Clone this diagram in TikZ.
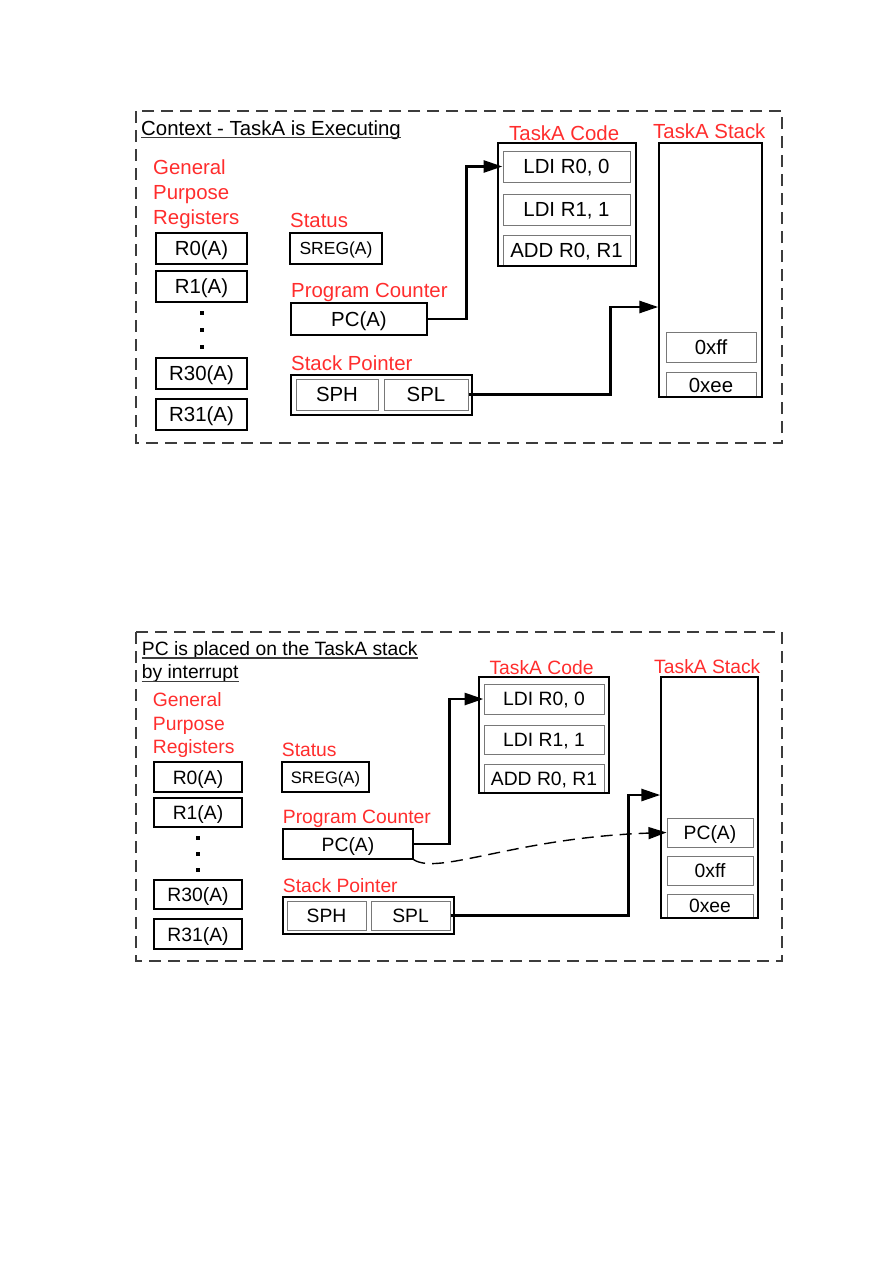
\documentclass[tikz,border=0pt]{standalone}
\usepackage{fontspec}
\setmainfont{Liberation Sans}
\usetikzlibrary{arrows.meta,calc}
\definecolor{lblred}{RGB}{255,45,45}
\definecolor{framegray}{RGB}{60,60,60}
\definecolor{cellgray}{RGB}{120,120,120}
\newcommand{\bigA}{\fontsize{20.4}{25}\selectfont}
\newcommand{\bigB}{\fontsize{19.3}{23.3}\selectfont}
\newcommand{\smlA}{\fontsize{17.5}{20}\selectfont}
\newcommand{\smlB}{\fontsize{16.6}{19}\selectfont}
\tikzset{
    frame/.style={draw=framegray, line width=1.4pt, dash pattern=on 12pt off 7pt},
    title/.style={anchor=base west, inner sep=0pt, text=black},
    uline/.style={draw=framegray, line width=1.2pt},
    lbl/.style={anchor=base west, inner sep=0pt, text=lblred},
    reg/.style={draw=black, line width=1.4pt, inner sep=0pt, text depth=0pt},
    cell/.style={draw=cellgray, line width=1pt, inner sep=0pt, text depth=0pt},
    holder/.style={draw=black, line width=1.4pt, inner sep=0pt},
    wire/.style={line width=2.8pt, -{Triangle[length=19pt,width=12pt]}},
    push/.style={line width=1.4pt, dash pattern=on 12pt off 7pt, -{Triangle[length=18pt,width=12pt]}},
    regdot/.style={rectangle, fill=black, inner sep=0pt, minimum size=3.5pt}
}
\begin{document}
\begin{tikzpicture}[x=1pt,y=-1pt]
\useasboundingbox (0,0) rectangle (893,1263);

% upper panel: TaskA running
\begin{scope}[every node/.append style={font=\bigA}]
\draw[frame] (136,111) rectangle (782,443);
\node[title] (titleA) at (141,135) {Context - TaskA is Executing};
\draw[uline] ([yshift=-2.5pt]titleA.base west) -- ([yshift=-2.5pt]titleA.base east);
\node[lbl, anchor=north west, align=left] (gprA) at (153,159.5) {General\\Purpose\\Registers};
\node[reg, minimum width=91pt, minimum height=31pt] (r0A) at (201.5,248.5) {R0(A)};
\node[reg, minimum width=91pt, minimum height=31pt] (r1A) at (201.5,286.5) {R1(A)};
\node[regdot] (dA1) at (202,313) {};
\node[regdot] (dA2) at (202,330) {};
\node[regdot] (dA3) at (202,347) {};
\node[reg, minimum width=91pt, minimum height=31pt] (r30A) at (201.5,373.5) {R30(A)};
\node[reg, minimum width=91pt, minimum height=31pt] (r31A) at (201.5,414.5) {R31(A)};
\node[lbl] (statusA) at (290,227) {Status};
\node[reg, minimum width=92pt, minimum height=31pt, font=\smlA] (sregA) at (336,248.5) {SREG(A)};
\node[lbl] (pclblA) at (291,297) {Program Counter};
\node[reg, minimum width=136pt, minimum height=32pt] (pcA) at (359,319) {PC(A)};
\node[lbl] (splblA) at (291,370) {Stack Pointer};
\node[cell, minimum width=82pt, minimum height=31pt] (sphA) at (337,394.5) {SPH};
\node[cell, minimum width=84pt, minimum height=31pt] (splA) at (426,394.5) {SPL};
\node[holder, minimum width=181pt, minimum height=40pt] (spA) at (381.5,395) {};
\node[lbl] (codelblA) at (509,140) {TaskA Code};
\node[cell, minimum width=127pt, minimum height=31pt] (ldi0A) at (566.5,166.5) {LDI R0, 0};
\node[cell, minimum width=127pt, minimum height=31pt] (ldi1A) at (566.5,209.5) {LDI R1, 1};
\node[cell, minimum width=127pt, minimum height=31pt] (addA) at (566.5,250.5) {ADD R0, R1};
\node[holder, minimum width=138pt, minimum height=123pt] (codeA) at (567,204.5) {};
\node[lbl] (stklblA) at (653,138) {TaskA Stack};
\node[cell, minimum width=90pt, minimum height=30pt] (xffA) at (711,347) {0xff};
\node[cell, minimum width=90pt, minimum height=25pt] (xeeA) at (711,385) {0xee};
\node[holder, minimum width=103pt, minimum height=254pt] (stackA) at (710.5,270) {};
\draw[wire] (pcA.east) -- ++(39,0) |- (ldi0A.west);
\draw[wire] (splA.east) -- ++(142,0) |- ([yshift=-37pt]stackA.west);
\end{scope}

% lower panel: PC pushed by interrupt
\begin{scope}[every node/.append style={font=\bigB}]
\draw[frame] (136,632) rectangle (782,961);
\node[title] (titleB) at (141.7,655.5) {PC is placed on the TaskA stack};
\node[title] (titleB2) at (141.7,678.3) {by interrupt};
\draw[uline] ([yshift=-2.5pt]titleB.base west) -- ([yshift=-2.5pt]titleB.base east);
\draw[uline] ([yshift=-3pt]titleB2.base west) -- ([yshift=-3pt]titleB2.base east);
\node[lbl, anchor=north west, align=left] (gprB) at (152.7,692.7) {General\\Purpose\\Registers};
\node[reg, minimum width=88pt, minimum height=30pt] (r0B) at (198,777) {R0(A)};
\node[reg, minimum width=88pt, minimum height=29pt] (r1B) at (198,812.5) {R1(A)};
\node[regdot] (dB1) at (198,838) {};
\node[regdot] (dB2) at (198,854) {};
\node[regdot] (dB3) at (198,870) {};
\node[reg, minimum width=88pt, minimum height=29pt] (r30B) at (198,894.5) {R30(A)};
\node[reg, minimum width=88pt, minimum height=30pt] (r31B) at (198,934) {R31(A)};
\node[lbl] (statusB) at (281.7,756.5) {Status};
\node[reg, minimum width=87pt, minimum height=30pt, font=\smlB] (sregB) at (325.5,777) {SREG(A)};
\node[lbl] (pclblB) at (282.7,823.3) {Program Counter};
\node[reg, minimum width=130pt, minimum height=30pt] (pcB) at (348,844) {PC(A)};
\node[lbl] (splblB) at (282.7,892.3) {Stack Pointer};
\node[cell, minimum width=79pt, minimum height=29pt] (sphB) at (326.5,915.5) {SPH};
\node[cell, minimum width=79pt, minimum height=29pt] (splB) at (410.5,915.5) {SPL};
\node[holder, minimum width=171pt, minimum height=37pt] (spB) at (368.5,915.5) {};
\node[lbl] (codelblB) at (489.3,674) {TaskA Code};
\node[cell, minimum width=120pt, minimum height=30pt] (ldi0B) at (544,699) {LDI R0, 0};
\node[cell, minimum width=120pt, minimum height=29pt] (ldi1B) at (544,739.5) {LDI R1, 1};
\node[cell, minimum width=120pt, minimum height=29pt] (addB) at (544,778.5) {ADD R0, R1};
\node[holder, minimum width=130pt, minimum height=116pt] (codeB) at (544,735) {};
\node[lbl] (stklblB) at (654,673.3) {TaskA Stack};
\node[cell, minimum width=86pt, minimum height=29pt] (pcsB) at (710,832.5) {PC(A)};
\node[cell, minimum width=86pt, minimum height=29pt] (xffB) at (710,870.5) {0xff};
\node[cell, minimum width=86pt, minimum height=24pt] (xeeB) at (710,906) {0xee};
\node[holder, minimum width=97pt, minimum height=241pt] (stackB) at (709.5,797.5) {};
\draw[wire] (pcB.east) -- ++(36,0) |- (ldi0B.west);
\draw[wire] (splB.east) -- ++(178,0) |- ([yshift=2.5pt]stackB.west);
\draw[push] (pcB.south east) .. controls +(25,16) and +(-150,5) .. (pcsB.west);
\end{scope}
\end{tikzpicture}
\end{document}
